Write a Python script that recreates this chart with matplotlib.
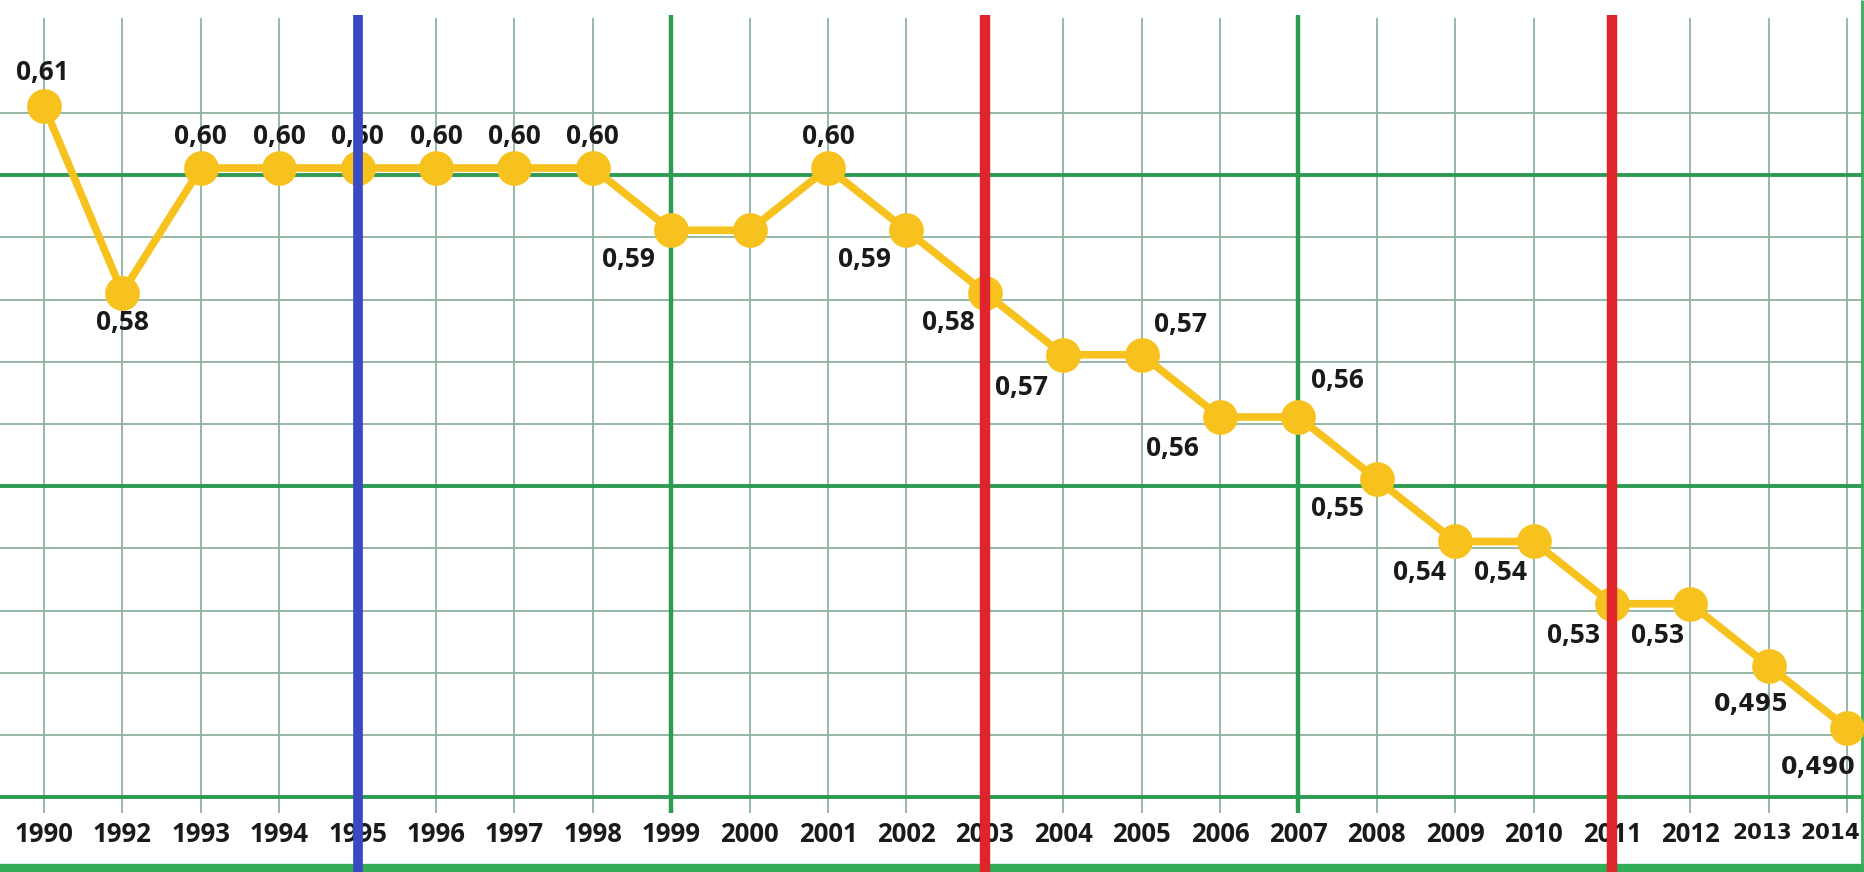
import matplotlib
matplotlib.use("Agg")
import matplotlib.pyplot as plt

# Data ---------------------------------------------------------------------

years = ["1990", "1992", "1993", "1994", "1995", "1996", "1997", "1998",
         "1999", "2000", "2001", "2002", "2003", "2004", "2005", "2006",
         "2007", "2008", "2009", "2010", "2011", "2012", "2013", "2014"]

# level where each point sits on the grid
levels = [0.61, 0.58, 0.60, 0.60, 0.60, 0.60, 0.60, 0.60,
          0.59, 0.59, 0.60, 0.59, 0.58, 0.57, 0.57, 0.56,
          0.56, 0.55, 0.54, 0.54, 0.53, 0.53, 0.52, 0.51]

# printed value labels (2000 has none)
labels = ["0,61", "0,58", "0,60", "0,60", "0,60", "0,60", "0,60", "0,60",
          "0,59", "", "0,60", "0,59", "0,58", "0,57", "0,57", "0,56",
          "0,56", "0,55", "0,54", "0,54", "0,53", "0,53", "0,495", "0,490"]

thin_rows = [0.61, 0.59, 0.58, 0.57, 0.56, 0.54, 0.53, 0.52, 0.51]
thick_rows = [0.60, 0.55, 0.50]

green_years = ["1999", "2007"]
red_years = ["2003", "2011"]
blue_years = ["1995"]

# label offsets in pixels (dx, dy) from the point
offsets = [(-2, 33), (0, -30), (0, 31), (0, 31), (0, 31), (0, 31), (0, 31), (0, 31),
           (-43, -29), (0, 0), (0, 31), (-42, -29), (-36, -30), (-42, -33), (39, 30), (-48, -32),
           (39, 36), (-39, -29), (-36, -31), (-33, -31), (-38, -32), (-33, -32), (-18, -38), (-29, -39)]

# Figure -------------------------------------------------------------------

W, H = 1865, 872
fig = plt.figure(figsize=(W / 100, H / 100), dpi=100)
ax = fig.add_axes([0, 0, 1, 1])

x = list(range(len(years)))
px_per_x = 78.4
px_per_y = 6225.0
x0_px, y060_px = 44, 168

ax.set_xlim(-x0_px / px_per_x, (W - x0_px) / px_per_x)
ax.set_ylim(0.60 - (H - y060_px) / px_per_y, 0.60 + y060_px / px_per_y)
ax.axis("off")

grid_shift = -7 / px_per_y      # grid sits a bit below the marker centres
def py(p):                       # pixel row -> data value
    return 0.60 - (p - y060_px) / px_per_y

thin_c = "#8fb29d"
green_c = "#2e9b52"

# horizontal grid
ax.hlines([r + grid_shift for r in thin_rows], *ax.get_xlim(), color=thin_c, lw=1.3, zorder=1)
ax.hlines([r + grid_shift for r in thick_rows], *ax.get_xlim(), color=green_c, lw=2.8, zorder=2)
ax.hlines(py(868), *ax.get_xlim(), color="#31ad55", lw=6, zorder=2)

# vertical grid
ax.vlines(x, py(18), py(813), color=thin_c, lw=1.3, zorder=1)
ax.vlines([years.index(y) for y in green_years], py(15), py(813), color=green_c, lw=3.2, zorder=2)
ax.vlines((W - 3 - x0_px) / px_per_x, py(0), py(872), color="#35b05a", lw=2, zorder=2)

# the series
ax.plot(x, levels, color="#f7c21d", lw=5.5, marker="o", ms=25,
        markeredgewidth=0, zorder=5, solid_capstyle="round")

# value labels
font_main = dict(family=["Open Sans", "DejaVu Sans"], weight="bold", size=19, color="#1a1a1a")
font_wide = dict(family="DejaVu Sans", weight="bold", size=17, color="#1a1a1a")
for i, (lev, lab) in enumerate(zip(levels, labels)):
    if not lab:
        continue
    f = font_wide if len(lab) > 4 else font_main
    ax.annotate(lab, (i, lev), xytext=offsets[i], textcoords="offset pixels",
                ha="center", va="center", zorder=6, **f)

# year labels (the last two were pasted in with another font)
wide_shift = {"2013": -7, "2014": -17}
for i, yr in enumerate(years):
    if yr in wide_shift:
        ax.annotate(yr, (i, py(833)), xytext=(wide_shift[yr], 0), textcoords="offset pixels",
                    ha="center", va="center", zorder=6,
                    family="DejaVu Sans", weight="bold", size=15.5, color="#1a1a1a")
    else:
        ax.text(i, py(835), yr, ha="center", va="center", zorder=6,
                family=["Open Sans", "DejaVu Sans"], weight="bold", size=18.5, color="#1a1a1a")

# red and blue markers lie over everything
ax.vlines([years.index(y) for y in red_years], py(15), py(872), color="#e0242c", lw=7.5, zorder=8)
ax.vlines([years.index(y) for y in blue_years], py(15), py(872), color="#3a49bf", lw=7, zorder=8)

fig.savefig("out.png", dpi=100)
